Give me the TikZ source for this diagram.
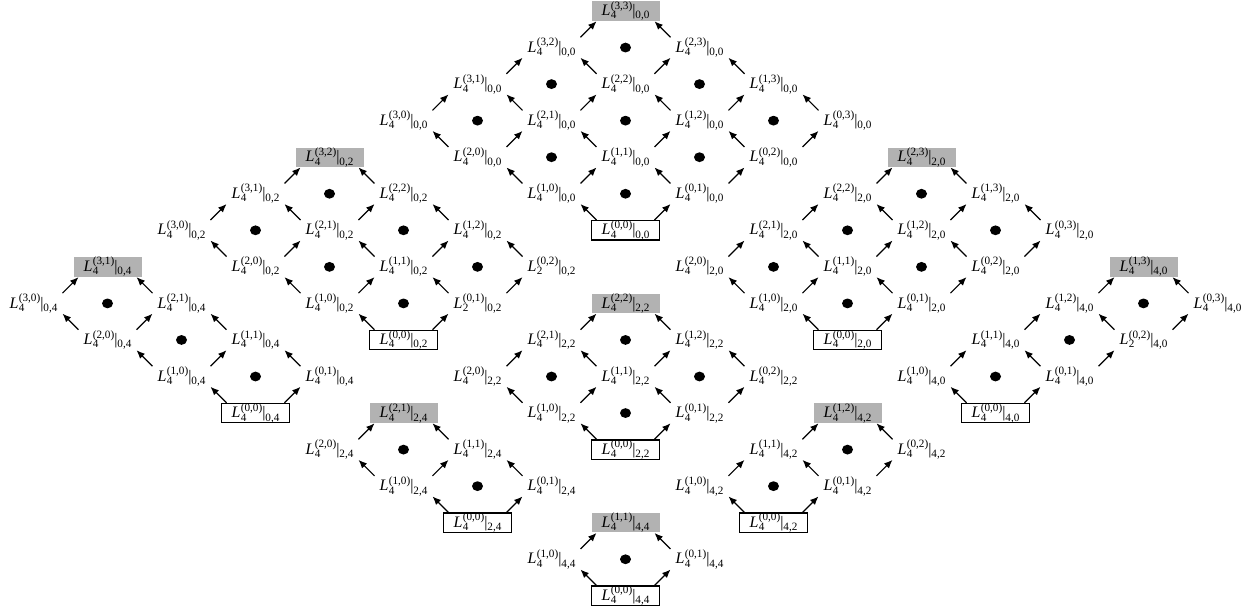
\documentclass[tikz,border=0pt]{standalone}
\usepackage{fontspec}
\setmainfont{Liberation Serif}
\usetikzlibrary{calc,arrows.meta}
\newcommand{\scr}{\fontsize{5.6}{6}\selectfont}
\newcommand{\Lab}[3]{\textit{L}\kern0.2pt\rlap{\raisebox{-0.45ex}{\scr #1}}\raisebox{0.9ex}{\scr (#2)}|\raisebox{-0.45ex}{\scr #3}}
\begin{document}
\begin{tikzpicture}[x=0.5pt,y=-0.5pt,
  lab/.style={inner sep=0pt, font=\fontsize{8}{9}\selectfont},
  bottombox/.style={lab, draw, line width=0.65pt, fill=white, minimum width=34pt, minimum height=9pt},
  topbox/.style={lab, fill=gray!60, minimum width=34pt, minimum height=9pt},
  arr/.style={line width=0.6pt, -{Latex[length=4.2pt,width=3.5pt]}},
  dotmark/.style={fill=black}]
\useasboundingbox (0,0) rectangle (1250,612);
% a/b/bottom column/bottom row/imax/jmax
\def\lattices{0/0/8/6/3/3, 0/2/5/9/3/2, 0/4/3/11/3/1, 2/0/11/9/2/3, 4/0/13/11/1/3, 2/2/8/12/2/2, 2/4/6/14/2/1, 4/2/10/14/1/2, 4/4/8/16/1/1}
% nodes and dots
\foreach \pa/\pb/\cc/\rr/\im/\jm in \lattices {
  \foreach \i in {0,...,\im} {
    \foreach \j in {0,...,\jm} {
      \pgfmathsetmacro\px{33.5+74*(\cc-\i+\j)}
      \pgfmathsetmacro\py{11+36.55*(\rr-\i-\j)}
      \def\sty{lab}
      \ifnum\i=0 \ifnum\j=0 \def\sty{bottombox}\fi\fi
      \ifnum\i=\im\relax \ifnum\j=\jm\relax \def\sty{topbox}\fi\fi
      \def\Lidx{4}
      \ifnum\pa=0 \ifnum\pb=2 \ifnum\i=0 \ifnum\j>0 \def\Lidx{2}\fi\fi\fi\fi
      \ifnum\pa=4 \ifnum\pb=0 \ifnum\i=0 \ifnum\j=2 \def\Lidx{2}\fi\fi\fi\fi
      \node[\sty] (n\pa\pb\i\j) at (\px,\py) {\Lab{\Lidx}{\i,\j}{\pa,\pb}};
      \ifnum\i<\im\relax \ifnum\j<\jm\relax
        \pgfmathsetmacro\dy{\py-36.55}
        \fill[dotmark] (\px,\dy) ellipse [x radius=2.75pt, y radius=2.45pt];
      \fi\fi
    }
  }
}
% arrows
\foreach \pa/\pb/\cc/\rr/\im/\jm in \lattices {
  \foreach \i in {0,...,\im} {
    \foreach \j in {0,...,\jm} {
      \ifnum\i<\im\relax
        \pgfmathtruncatemacro\ni{\i+1}
        \draw[arr] ($(n\pa\pb\i\j)!0.5!(n\pa\pb\ni\j)+(8,8)$) -- ($(n\pa\pb\i\j)!0.5!(n\pa\pb\ni\j)+(-8,-8)$);
      \fi
      \ifnum\j<\jm\relax
        \pgfmathtruncatemacro\nj{\j+1}
        \draw[arr] ($(n\pa\pb\i\j)!0.5!(n\pa\pb\i\nj)+(-8,8)$) -- ($(n\pa\pb\i\j)!0.5!(n\pa\pb\i\nj)+(8,-8)$);
      \fi
    }
  }
}
\end{tikzpicture}
\end{document}
